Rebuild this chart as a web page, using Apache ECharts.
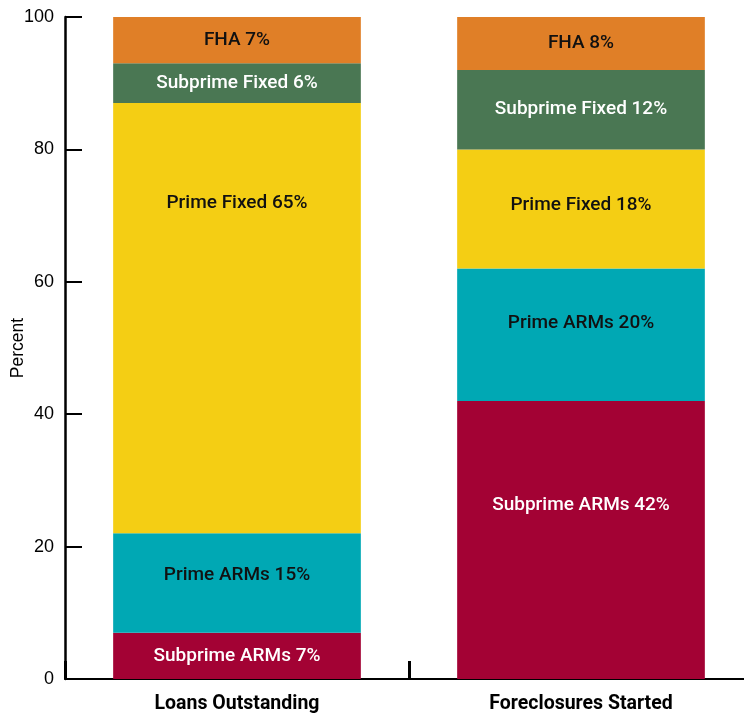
<!DOCTYPE html>
<html>
<head>
<meta charset="utf-8">
<script src="https://cdn.jsdelivr.net/npm/echarts@6/dist/echarts.min.js"></script>
<style>
  html, body { margin: 0; padding: 0; background: #ffffff; }
  #chart { width: 744px; height: 715px; }
</style>
</head>
<body>
<div id="chart"></div>
<script>
// Share of loans by type: outstanding vs. foreclosures started
const categories = ['Loans Outstanding', 'Foreclosures Started'];
const seriesNames = ['Subprime ARMs', 'Prime ARMs', 'Prime Fixed', 'Subprime Fixed', 'FHA'];
const subprimeArms = [7, 42];
const primeArms = [15, 20];
const primeFixed = [65, 18];
const subprimeFixed = [6, 12];
const fha = [7, 8];
const yTicks = [0, 20, 40, 60, 80, 100];

const seriesValues = [subprimeArms, primeArms, primeFixed, subprimeFixed, fha];
const fillColors = ['#A30234', '#00A8B4', '#F4CE14', '#4A7753', '#E07F27'];
const textColors = ['#ffffff', '#111111', '#111111', '#ffffff', '#111111'];
// vertical nudges for labels that sit above their segment's middle, [series][category]
const labelShift = [[0, -35], [-8, -12], [-115, -4], [0, 0], [0, 0]];

const labelFont = 'Roboto, "Liberation Sans", sans-serif';
const plainFont = '"Liberation Sans", Arial, sans-serif';

const series = seriesNames.map((name, i) => ({
  name: name,
  type: 'bar',
  stack: 'total',
  barWidth: '72%',
  itemStyle: { color: fillColors[i] },
  label: {
    show: true,
    position: 'inside',
    color: textColors[i],
    fontFamily: labelFont,
    fontWeight: 500,
    fontSize: 19,
    formatter: p => name + ' ' + p.value + '%'
  },
  data: seriesValues[i].map((v, j) => ({
    value: v,
    label: { offset: [0, labelShift[i][j]] }
  }))
}));

const chart = echarts.init(document.getElementById('chart'));
chart.setOption({
  animation: false,
  grid: { left: 65, right: -9, top: 17, bottom: 36, containLabel: false, outerBoundsMode: 'none' },
  xAxis: {
    type: 'category',
    data: categories,
    axisLine: { lineStyle: { color: '#000', width: 2 } },
    axisTick: { show: true, inside: true, length: 18, lineStyle: { color: '#000', width: 3 } },
    axisLabel: {
      color: '#000',
      fontFamily: labelFont,
      fontWeight: 'bold',
      fontSize: 19.5,
      margin: 15
    }
  },
  yAxis: {
    type: 'value',
    min: yTicks[0],
    max: yTicks[yTicks.length - 1],
    interval: yTicks[1] - yTicks[0],
    name: 'Percent',
    nameLocation: 'middle',
    nameRotate: 90,
    nameGap: 38,
    nameMoveOverlap: false,
    nameTextStyle: { color: '#000', fontFamily: plainFont, fontSize: 17.5 },
    axisLine: { show: true, lineStyle: { color: '#000', width: 2.5 } },
    axisTick: { show: true, inside: true, length: 17, lineStyle: { color: '#000', width: 2 } },
    splitLine: { show: false },
    axisLabel: {
      color: '#000',
      fontFamily: plainFont,
      fontSize: 18,
      margin: 11
    }
  },
  series: series
});
</script>
</body>
</html>
